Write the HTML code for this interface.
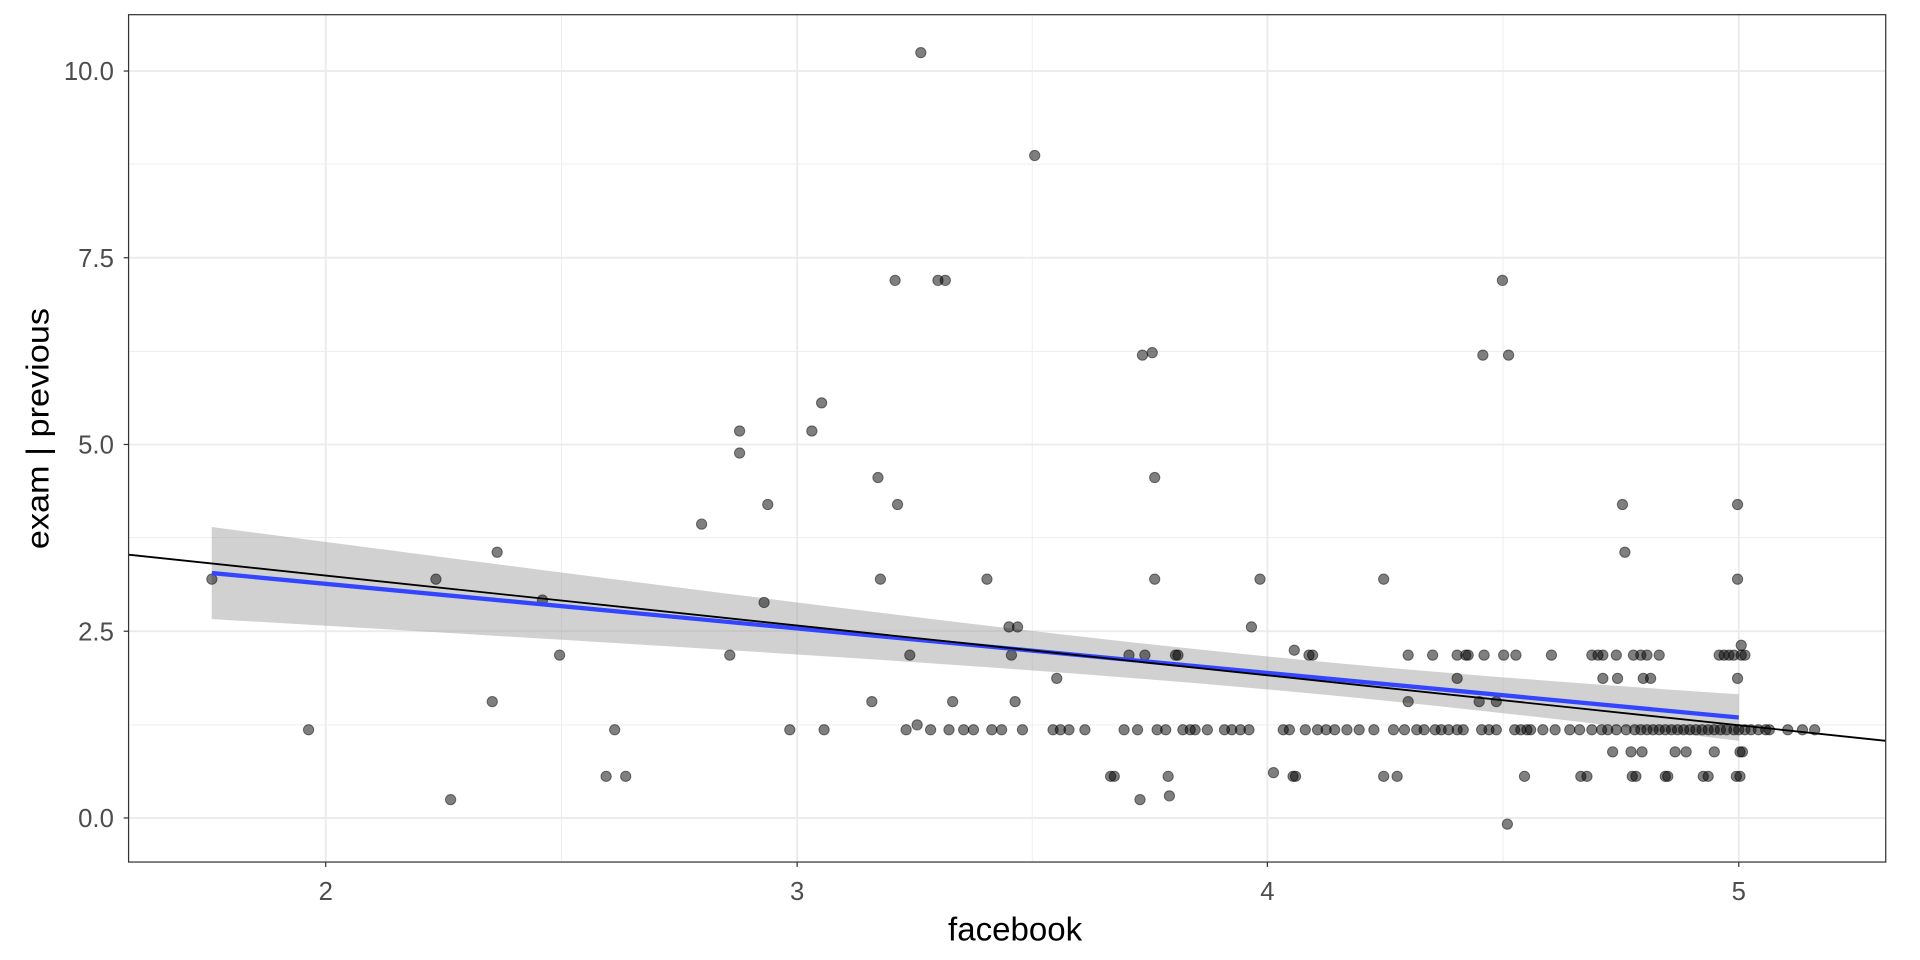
<!DOCTYPE html>
<html><head><meta charset="utf-8"><style>html,body{margin:0;padding:0;background:#fff}svg{display:block}</style></head>
<body>
<svg id="s" width="1920" height="960" viewBox="0 0 1568 784" xmlns="http://www.w3.org/2000/svg" font-family="Liberation Sans, sans-serif">
<rect x="105" y="12" width="1435" height="692" fill="#fff"/>
<g stroke="#ebebeb" stroke-width="0.7">
<line x1="458.5" y1="12" x2="458.5" y2="704"/><line x1="843" y1="12" x2="843" y2="704"/><line x1="1227.5" y1="12" x2="1227.5" y2="704"/>
<line x1="105" y1="134" x2="1540" y2="134"/><line x1="105" y1="287" x2="1540" y2="287"/><line x1="105" y1="439" x2="1540" y2="439"/><line x1="105" y1="592" x2="1540" y2="592"/>
</g>
<g stroke="#ebebeb" stroke-width="1.5">
<line x1="266" y1="12" x2="266" y2="704"/><line x1="651" y1="12" x2="651" y2="704"/><line x1="1035" y1="12" x2="1035" y2="704"/><line x1="1420" y1="12" x2="1420" y2="704"/>
<line x1="105" y1="58" x2="1540" y2="58"/><line x1="105" y1="210.5" x2="1540" y2="210.5"/><line x1="105" y1="363" x2="1540" y2="363"/><line x1="105" y1="515.5" x2="1540" y2="515.5"/><line x1="105" y1="668" x2="1540" y2="668"/>
</g>
<path id="band" fill="#999" fill-opacity="0.45"/>
<g id="pts"></g>
<line x1="173" y1="468" x2="1420" y2="586" stroke="#3345ff" stroke-width="3.5"/>
<line x1="105" y1="453" x2="1540" y2="605" stroke="#000" stroke-width="1.5"/>
<rect x="105" y="12" width="1435" height="692" fill="none" stroke="#333" stroke-width="1"/>
<g stroke="#333" stroke-width="1">
<line x1="101" y1="58" x2="105" y2="58"/><line x1="101" y1="210.5" x2="105" y2="210.5"/><line x1="101" y1="363" x2="105" y2="363"/><line x1="101" y1="515.5" x2="105" y2="515.5"/><line x1="101" y1="668" x2="105" y2="668"/>
<line x1="266" y1="704" x2="266" y2="708"/><line x1="651" y1="704" x2="651" y2="708"/><line x1="1035" y1="704" x2="1035" y2="708"/><line x1="1420" y1="704" x2="1420" y2="708"/>
</g>
<g fill="#4d4d4d" font-size="21" text-anchor="end">
<text x="93" y="65.5">10.0</text><text x="93" y="218">7.5</text><text x="93" y="370.5">5.0</text><text x="93" y="523">2.5</text><text x="93" y="675.5">0.0</text>
</g>
<g fill="#4d4d4d" font-size="21" text-anchor="middle">
<text x="266" y="735">2</text><text x="651" y="735">3</text><text x="1035" y="735">4</text><text x="1420" y="735">5</text>
</g>
<text x="829" y="768" font-size="27" text-anchor="middle" fill="#000">facebook</text>
<text transform="translate(39.5,350) rotate(-90)" font-size="26" text-anchor="middle" fill="#000" textLength="197" lengthAdjust="spacingAndGlyphs">exam | previous</text>
</svg>
<script>
var pts=[[173,473],[356,473],[368,653],[406,451],[443,490],[502,596],[573,428],[604,352],[604,370],[624,492],[627,412],[663,352],[671,329],[717,390],[719,473],[731,229],[733,412],[749,592],[752,43],[766,229],[772,229],[806,473],[824,512],[831,512],[845,127],[931,653],[933,290],[941,288],[943,390],[943,473],[955,650],[1022,512],[1029,473],[1040,631],[1057,531],[1211,290],[1227,229],[1232,290],[1231,673],[1325,412],[1327,451],[1419,412],[1419,473],[1422,527],[1419,554],[1190,554],[1130,473],[1208,573],[1222,573]];
[252,645,673,740,760,775,787,795,810,818,835,860,866,873,886,918,929,945,952,966,972,976,986,1000,1006,1013,1020,1048,1053,1066,1076,1083,1090,1100,1110,1122,1138,1147,1157,1163,1172,1177,1183,1190,1195,1210,1216,1222,1237,1242,1247,1250,1260,1270,1282,1290,1300,1308,1313,1320,1328,1335,1340,1345,1350,1355,1360,1365,1370,1375,1380,1385,1390,1395,1400,1405,1410,1416,1420,1425,1430,1436,1442,1445,1460,1472,1482].forEach(function(x){pts.push([x,596]);});
[495,511,907,910,954,1056,1058,1130,1141,1245,1291,1296,1333,1336,1360,1362,1391,1395,1418,1421].forEach(function(x){pts.push([x,634]);});
[1317,1332,1341,1368,1377,1400,1421,1423].forEach(function(x){pts.push([x,614]);});
[457,596,743,826,922,935,960,962,1069,1072,1150,1170,1190,1197,1199,1212,1228,1238,1267,1300,1305,1309,1320,1334,1340,1345,1355,1404,1408,1412,1416,1422,1425].forEach(function(x){pts.push([x,535]);});
[402,712,778,829,1150].forEach(function(x){pts.push([x,573]);});
[863,1309,1321,1342,1348].forEach(function(x){pts.push([x,554]);});
var g=document.getElementById('pts'),h='';
pts.forEach(function(p){h+='<circle cx="'+p[0]+'" cy="'+p[1]+'" r="4.2" fill="#000" fill-opacity="0.5" stroke="#000" stroke-opacity="0.5" stroke-width="0.8"/>';});
g.innerHTML=h;
function X(d){return 266+(d-2)*384.7;}
function yb(px){return 468+(px-173)*(118/1247);}
var up=[],lo=[];
for(var i=0;i<=60;i++){var d=1.758+(5-1.758)*i/60,px=X(d),hw=Math.sqrt(179+225*(d-4.1)*(d-4.1));up.push(px+','+(yb(px)-hw));lo.push(px+','+(yb(px)+hw));}
document.getElementById('band').setAttribute('d','M'+up.join('L')+'L'+lo.reverse().join('L')+'Z');
</script>
</body></html>
